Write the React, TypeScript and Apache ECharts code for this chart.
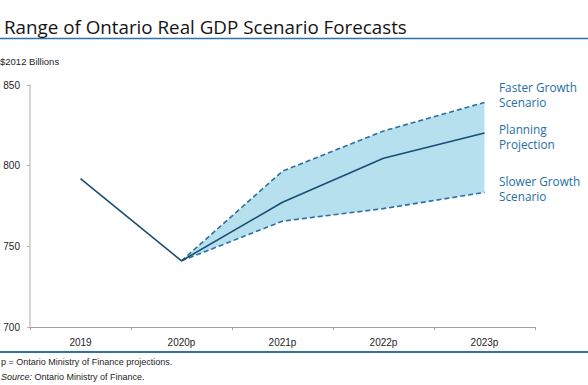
import React, { useEffect, useRef } from "react";
import * as echarts from "echarts";

const categories = ["2019", "2020p", "2021p", "2022p", "2023p"];
const planning = [792, 741, 777.3, 804.6, 820.2];
const faster: (number | null)[] = [null, 741, 796.6, 821.5, 839.2];
const slower: (number | null)[] = [null, 741, 765.6, 773.4, 783.4];
const yMin = 700;
const yMax = 850;
const yStep = 50;
const title = "Range of Ontario Real GDP Scenario Forecasts";
const unitLabel = "$2012 Billions";
const footnote = "p = Ontario Ministry of Finance projections.";
const sourceLabel = "Source:";
const sourceText = " Ontario Ministry of Finance.";
const scenarioLabels = ["Faster Growth\nScenario", "Planning\nProjection", "Slower Growth\nScenario"];

const SMALL = "'Liberation Sans', Arial, sans-serif";
const TITLE_FONT = "'Open Sans', Lato, sans-serif";
const BLUE_TEXT = "#2470a3";
const RULE = "#2f72a4";

export default function App() {
  const ref = useRef<HTMLDivElement>(null);
  useEffect(() => {
    if (!ref.current) return;
    const chart = echarts.init(ref.current, undefined, { renderer: "svg" });
    const bandDiff = faster.map((v, i) => (v == null || slower[i] == null ? null : +(v - (slower[i] as number)).toFixed(2)));
    chart.setOption({
      animation: false,
      backgroundColor: "#ffffff",
      title: {
        text: title,
        left: -1,
        top: 12,
        textStyle: { fontFamily: TITLE_FONT, fontSize: 18.8, fontWeight: "normal", color: "#141414" },
      },
      grid: { left: 30, right: 53, top: 85, bottom: 58 },
      xAxis: {
        type: "category",
        data: categories,
        boundaryGap: true,
        axisLine: { show: true, lineStyle: { color: "#a3a3a3", width: 1 } },
        axisTick: { show: true, length: 3, inside: false, lineStyle: { color: "#a3a3a3" } },
        axisLabel: { margin: 10, fontFamily: SMALL, fontSize: 10, color: "#1e1e1e" },
        splitLine: { show: false },
      },
      yAxis: {
        type: "value",
        min: yMin,
        max: yMax,
        interval: yStep,
        axisLine: { show: true, lineStyle: { color: "#c8c8c8", width: 1.5 } },
        axisTick: { show: true, length: 3, lineStyle: { color: "#b0b0b0" } },
        axisLabel: { margin: 10, fontFamily: SMALL, fontSize: 10, color: "#1e1e1e" },
        splitLine: { show: false },
      },
      series: [
        {
          name: "bandBase",
          type: "line",
          data: slower,
          stack: "band",
          symbol: "none",
          silent: true,
          lineStyle: { opacity: 0 },
          z: 1,
        },
        {
          name: "band",
          type: "line",
          data: bandDiff,
          stack: "band",
          symbol: "none",
          silent: true,
          lineStyle: { opacity: 0 },
          areaStyle: { color: "#b6e0ee", opacity: 1 },
          z: 1,
        },
        {
          name: "Faster Growth Scenario",
          type: "line",
          data: faster,
          symbol: "none",
          lineStyle: { color: "#2a6fa6", width: 1.6, type: [5, 3] },
          z: 3,
        },
        {
          name: "Slower Growth Scenario",
          type: "line",
          data: slower,
          symbol: "none",
          lineStyle: { color: "#2a6fa6", width: 1.6, type: [5, 3] },
          z: 3,
        },
        {
          name: "Planning Projection",
          type: "line",
          data: planning,
          symbol: "none",
          lineStyle: { color: "#1b4d74", width: 1.6 },
          z: 4,
        },
      ],
      graphic: [
        { type: "line", shape: { x1: 0, y1: 38.5, x2: 588, y2: 38.5 }, style: { stroke: RULE, lineWidth: 1.5 } },
        { type: "line", shape: { x1: 0, y1: 352, x2: 588, y2: 352 }, style: { stroke: RULE, lineWidth: 2 } },
        {
          type: "text",
          left: 0,
          top: 56,
          style: { text: unitLabel, fontFamily: SMALL, fontSize: 9.5, fill: "#1e1e1e" },
        },
        {
          type: "text",
          left: 1,
          top: 357,
          style: { text: footnote, fontFamily: SMALL, fontSize: 9, fill: "#1e1e1e" },
        },
        {
          type: "text",
          left: 1,
          top: 372,
          style: {
            text: "{i|" + sourceLabel + "}{n|" + sourceText + "}",
            rich: {
              i: { fontFamily: SMALL, fontSize: 9, fontStyle: "italic", fill: "#1e1e1e" },
              n: { fontFamily: SMALL, fontSize: 9, fill: "#1e1e1e" },
            },
          },
        },
        {
          type: "text",
          left: 499,
          top: 79,
          style: { text: scenarioLabels[0], fontFamily: TITLE_FONT, fontSize: 11.8, lineHeight: 15, fill: BLUE_TEXT },
        },
        {
          type: "text",
          left: 499,
          top: 121,
          style: { text: scenarioLabels[1], fontFamily: TITLE_FONT, fontSize: 11.8, lineHeight: 15, fill: BLUE_TEXT },
        },
        {
          type: "text",
          left: 499,
          top: 173,
          style: { text: scenarioLabels[2], fontFamily: TITLE_FONT, fontSize: 11.8, lineHeight: 15, fill: BLUE_TEXT },
        },
      ],
    });
    return () => chart.dispose();
  }, []);
  return <div ref={ref} style={{ position: "fixed", left: 0, top: 0, width: 588, height: 385 }} />;
}
